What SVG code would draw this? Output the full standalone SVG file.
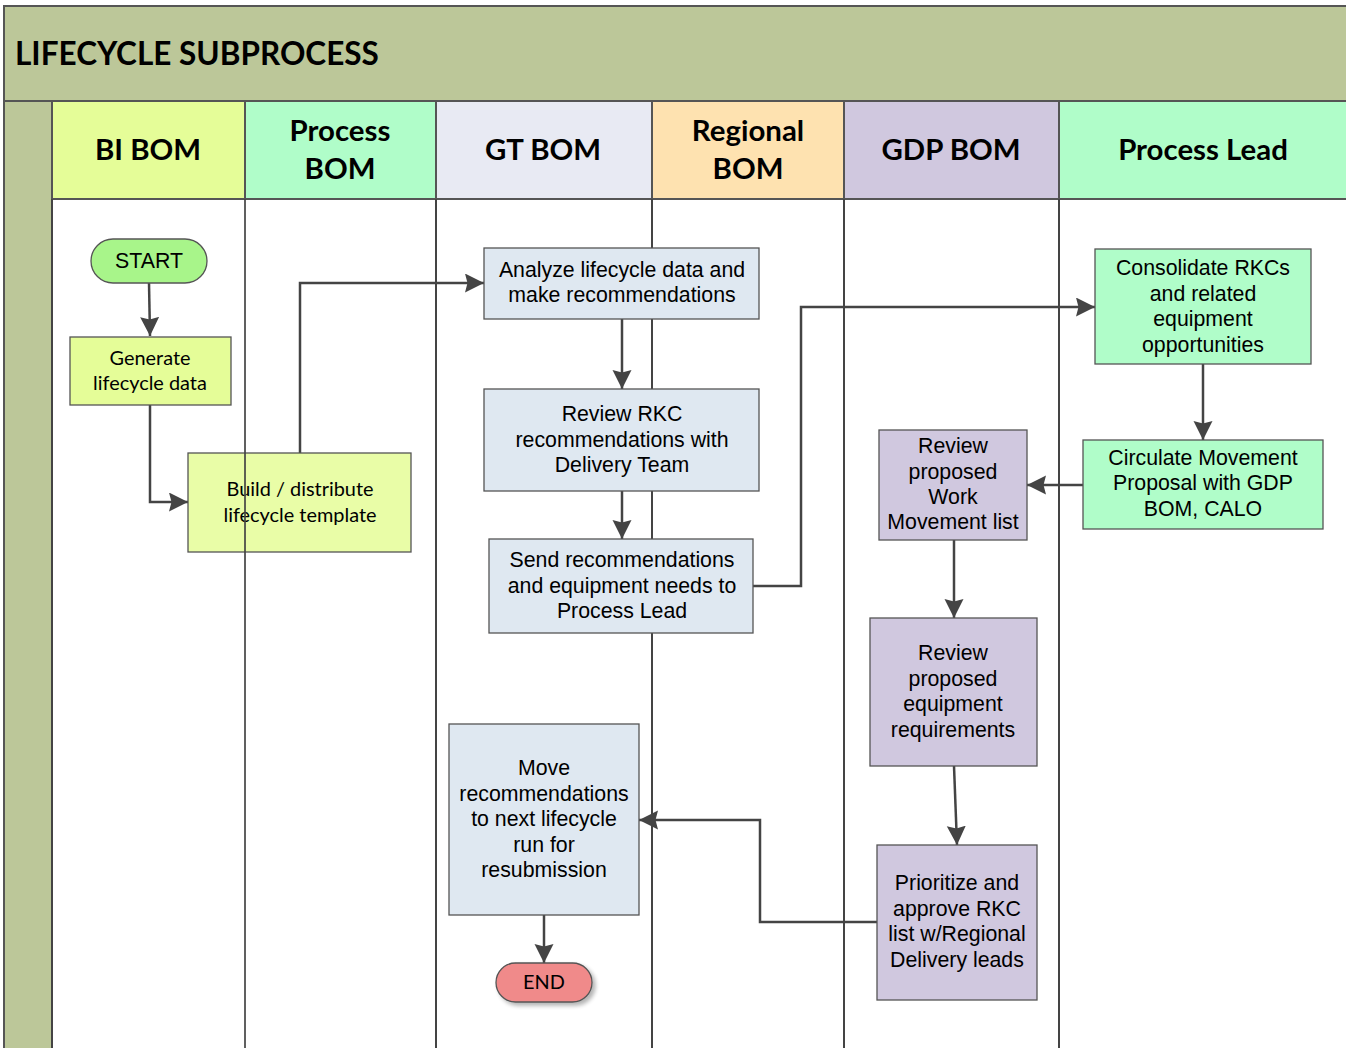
<svg xmlns="http://www.w3.org/2000/svg" width="1346" height="1048" viewBox="0 0 1346 1048">
  <style>
    .frame { fill: #bcc799; stroke: #555; stroke-width: 2; }
    .hdr { stroke: #555; stroke-width: 2; }
    .lane { stroke: #444; stroke-width: 2; }
    .htxt { font-family: Lato, "Liberation Sans", sans-serif; font-weight: bold; font-size: 29.4px; fill: #000; text-anchor: middle; }
    .title { font-family: Lato, "Liberation Sans", sans-serif; font-weight: bold; font-size: 31.5px; fill: #000; }
    .box { stroke: #555; stroke-width: 1.3; }
    .t { font-family: "Liberation Sans", Arial, sans-serif; font-size: 21.3px; fill: #000; text-anchor: middle; }
    .tc { font-family: Lato, "Liberation Sans", sans-serif; font-size: 19.9px; fill: #000; text-anchor: middle; }
    .yg { fill: #e5fd98; }
    .gt { fill: #dfe8f1; }
    .pl { fill: #b0fdc9; }
    .gd { fill: #d0c8df; }
    .conn path { fill: none; stroke: #444; stroke-width: 2.5; marker-end: url(#arr); }
  </style>
  <defs>
    <marker id="arr" markerWidth="22" markerHeight="22" refX="19" refY="9.5" orient="auto" markerUnits="userSpaceOnUse">
      <path d="M0,0 L19,9.5 L0,19 L2.5,9.5 Z" fill="#444"/>
    </marker>
    <filter id="shadow" x="-20%" y="-30%" width="150%" height="180%">
      <feGaussianBlur in="SourceAlpha" stdDeviation="2"/>
      <feOffset dx="3" dy="3"/>
      <feComponentTransfer><feFuncA type="linear" slope="0.3"/></feComponentTransfer>
      <feMerge><feMergeNode/><feMergeNode in="SourceGraphic"/></feMerge>
    </filter>
  </defs>

  <rect width="1346" height="1048" fill="#fff"/>

  <!-- pool frame: title band and left strip -->
  <g id="pool">
    <rect class="frame" x="4" y="6" width="1350" height="95"/>
    <rect class="frame" x="4" y="101" width="48" height="960"/>
    <text class="title" x="15" y="65">LIFECYCLE SUBPROCESS</text>
  </g>

  <!-- lane headers -->
  <g id="headers">
    <rect class="hdr" x="52" y="101" width="193" height="98" fill="#e5fd98"/>
    <rect class="hdr" x="245" y="101" width="191" height="98" fill="#b0fdc9"/>
    <rect class="hdr" x="436" y="101" width="216" height="98" fill="#e8eaf3"/>
    <rect class="hdr" x="652" y="101" width="192" height="98" fill="#fee2b0"/>
    <rect class="hdr" x="844" y="101" width="215" height="98" fill="#d0c8df"/>
    <rect class="hdr" x="1059" y="101" width="295" height="98" fill="#b0fdc9"/>
    <text class="htxt" x="148" y="160">BI BOM</text>
    <text class="htxt" x="340" y="141">Process</text>
    <text class="htxt" x="340" y="179">BOM</text>
    <text class="htxt" x="543" y="160">GT BOM</text>
    <text class="htxt" x="748" y="141">Regional</text>
    <text class="htxt" x="748" y="179">BOM</text>
    <text class="htxt" x="951" y="160">GDP BOM</text>
    <text class="htxt" x="1203" y="160">Process Lead</text>
  </g>

  <!-- lane dividers -->
  <g id="lanes">
    <line class="lane" x1="52" y1="199" x2="52" y2="1048"/>
    <line class="lane" x1="436" y1="199" x2="436" y2="1048"/>
    <line class="lane" x1="652" y1="199" x2="652" y2="1048"/>
    <line class="lane" x1="844" y1="199" x2="844" y2="1048"/>
    <line class="lane" x1="1059" y1="199" x2="1059" y2="1048"/>
  </g>

  <!-- connectors -->
  <g id="connectors" class="conn">
    <path d="M149,283 L150,336"/>
    <path d="M150,405 L150,502 L188,502"/>
    <path d="M300,453 L300,283 L484,283"/>
    <path d="M622,319 L622,389"/>
    <path d="M622,491 L622,539"/>
    <path d="M753,586 L801,586 L801,307 L1095,307"/>
    <path d="M1203,364 L1203,440"/>
    <path d="M1083,485 L1027,485"/>
    <path d="M954,540 L954,618"/>
    <path d="M954,766 L957,845"/>
    <path d="M877,922 L760,922 L760,820 L639,820"/>
    <path d="M544,915 L544,963"/>
  </g>

  <g id="start">
    <rect x="91" y="239" width="116" height="44" rx="22" fill="#a8f58a" stroke="#555" stroke-width="1.3"/>
    <text class="t" x="149" y="268">START</text>
  </g>

  <g id="generate">
    <rect class="box yg" x="70" y="337" width="161" height="68"/>
    <text class="tc" x="150" y="365">Generate</text>
    <text class="tc" x="150" y="390">lifecycle data</text>
  </g>

  <g id="build">
    <rect class="box yg" x="188" y="453" width="223" height="99" fill-opacity="0.85"/>
    <text class="tc" x="300" y="496">Build / distribute</text>
    <text class="tc" x="300" y="522">lifecycle template</text>
  </g>

  <!-- the Process BOM divider runs across the template box -->
  <line class="lane" x1="245" y1="199" x2="245" y2="1048" stroke-opacity="0.85"/>

  <g id="analyze">
    <rect class="box gt" x="484" y="248" width="275" height="71"/>
    <text class="t" x="622" y="277">Analyze lifecycle data and</text>
    <text class="t" x="622" y="302">make recommendations</text>
  </g>

  <g id="review-rkc">
    <rect class="box gt" x="484" y="389" width="275" height="102"/>
    <text class="t" x="622" y="421">Review RKC</text>
    <text class="t" x="622" y="447">recommendations with</text>
    <text class="t" x="622" y="472">Delivery Team</text>
  </g>

  <g id="send">
    <rect class="box gt" x="489" y="539" width="264" height="94"/>
    <text class="t" x="622" y="567">Send recommendations</text>
    <text class="t" x="622" y="593">and equipment needs to</text>
    <text class="t" x="622" y="618">Process Lead</text>
  </g>

  <g id="move">
    <rect class="box gt" x="449" y="724" width="190" height="191"/>
    <text class="t" x="544" y="775">Move</text>
    <text class="t" x="544" y="801">recommendations</text>
    <text class="t" x="544" y="826">to next lifecycle</text>
    <text class="t" x="544" y="852">run for</text>
    <text class="t" x="544" y="877">resubmission</text>
  </g>

  <g id="end">
    <rect x="496" y="963" width="96" height="39" rx="19.5" fill="#f08a8a" stroke="#555" stroke-width="1.3" filter="url(#shadow)"/>
    <text class="tc" x="544" y="989">END</text>
  </g>

  <g id="consolidate">
    <rect class="box pl" x="1095" y="249" width="216" height="115"/>
    <text class="t" x="1203" y="275">Consolidate RKCs</text>
    <text class="t" x="1203" y="301">and related</text>
    <text class="t" x="1203" y="326">equipment</text>
    <text class="t" x="1203" y="352">opportunities</text>
  </g>

  <g id="circulate">
    <rect class="box pl" x="1083" y="440" width="240" height="89"/>
    <text class="t" x="1203" y="465">Circulate Movement</text>
    <text class="t" x="1203" y="490">Proposal with GDP</text>
    <text class="t" x="1203" y="516">BOM, CALO</text>
  </g>

  <g id="review-work">
    <rect class="box gd" x="879" y="430" width="148" height="110"/>
    <text class="t" x="953" y="453">Review</text>
    <text class="t" x="953" y="479">proposed</text>
    <text class="t" x="953" y="504">Work</text>
    <text class="t" x="953" y="529">Movement list</text>
  </g>

  <g id="review-equipment">
    <rect class="box gd" x="870" y="618" width="167" height="148"/>
    <text class="t" x="953" y="660">Review</text>
    <text class="t" x="953" y="686">proposed</text>
    <text class="t" x="953" y="711">equipment</text>
    <text class="t" x="953" y="737">requirements</text>
  </g>

  <g id="prioritize">
    <rect class="box gd" x="877" y="845" width="160" height="155"/>
    <text class="t" x="957" y="890">Prioritize and</text>
    <text class="t" x="957" y="916">approve RKC</text>
    <text class="t" x="957" y="941">list w/Regional</text>
    <text class="t" x="957" y="967">Delivery leads</text>
  </g>
</svg>
